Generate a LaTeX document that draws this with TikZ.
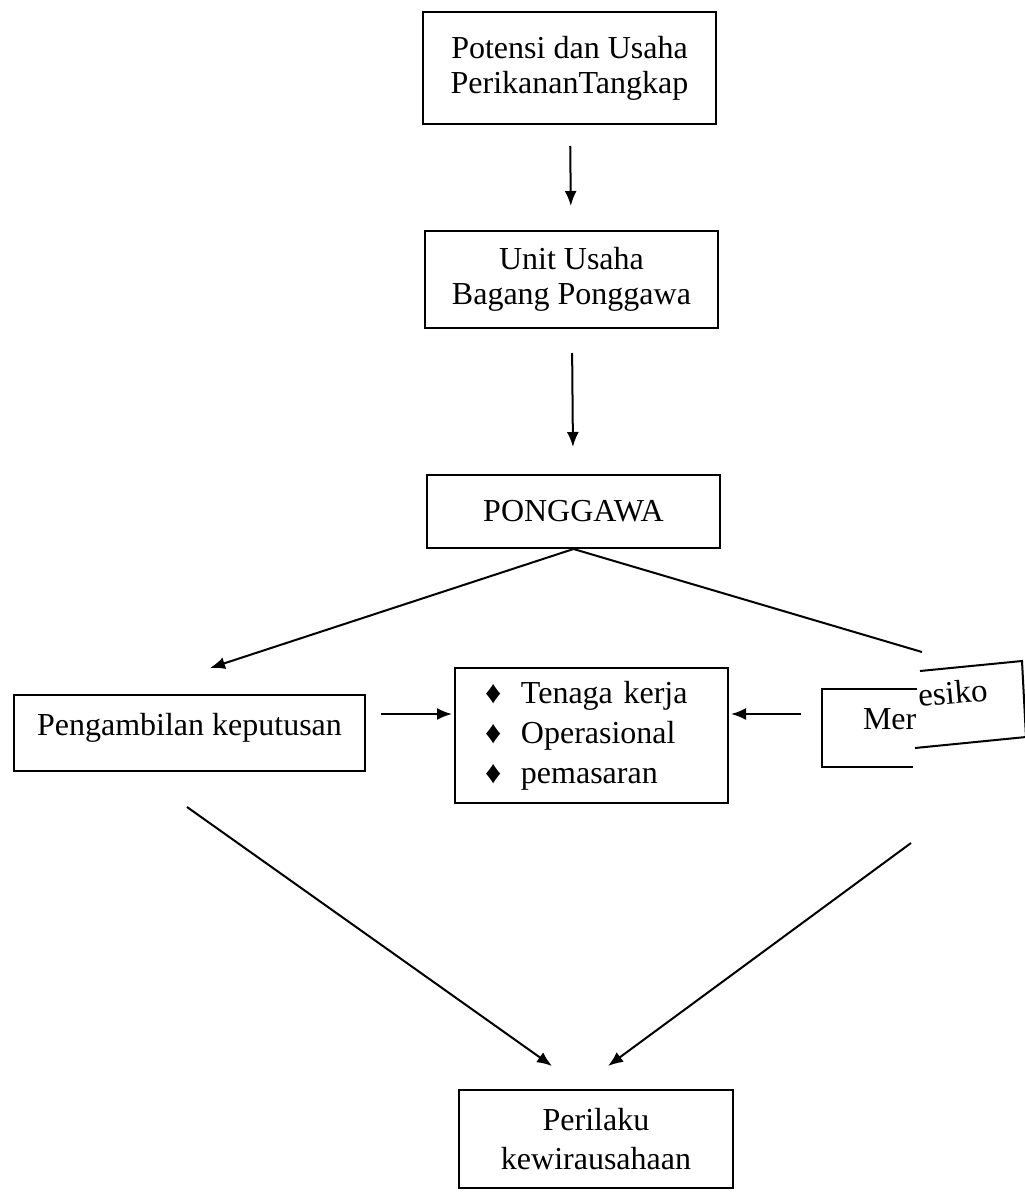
\documentclass[tikz,border=0pt]{standalone}
\usepackage{fontspec}
\setmainfont{Liberation Serif}
\usetikzlibrary{arrows.meta}
\begin{document}
\begin{tikzpicture}[x=0.5pt, y=-0.5pt, >={Latex[length=7.5pt,width=6pt]}, line width=1pt,
    kotak/.style={draw, inner sep=0pt, align=center, font=\fontsize{16}{17.5}\selectfont},
    panah/.style={->}]
\useasboundingbox (0,0) rectangle (1024,1199);
\node[kotak, minimum width=146.5pt, minimum height=56pt] (potensi) at (569.5,68) {Potensi dan Usaha\\PerikananTangkap};
\node[kotak, minimum width=146.5pt, minimum height=48.5pt] (unit) at (571.5,279.5) {Unit Usaha\\Bagang Ponggawa};
\node[kotak, minimum width=146.5pt, minimum height=36.5pt] (ponggawa) at (573.5,511.5) {PONGGAWA};
\node[kotak, minimum width=175.5pt, minimum height=38pt, text height=11pt, text depth=9pt] (keputusan) at (189.5,733) {Pengambilan keputusan};
\node[kotak, align=left, text width=106.5pt, inner xsep=15pt, minimum height=67.5pt,
      font=\fontsize{16}{20}\selectfont] (aspek) at (591.5,735.5)
      {\makebox[18pt][l]{♦}Tenaga kerja\\\makebox[18pt][l]{♦}Operasional\\\makebox[18pt][l]{♦}pemasaran};
\node[kotak, minimum width=137pt, minimum height=49pt, font=\fontsize{16}{19.5}\selectfont] (perilaku) at (596,1139) {Perilaku\\kewirausahaan};
% kotak resiko (potongan)
\draw (917,689) -- (822,689) -- (822,767) -- (913,767);
\node[anchor=base west, inner sep=0pt, font=\fontsize{16}{19}\selectfont] (mer) at (862,729) {Mer};
\draw (920,671) -- (1022,661) -- (1026,737) -- (915,748);
\node[anchor=base west, inner sep=0pt, rotate=5, font=\fontsize{16.5}{19}\selectfont] (esiko) at (918,707) {esiko};
\coordinate (ujungkiri) at (210,668);
\coordinate (ujungkanan) at (922,652);
\coordinate (kiribawah) at (552,1066);
\coordinate (kananbawah) at (608,1066);
\coordinate (kananatas) at (911,843);
\draw[panah, shorten <=10.5pt, shorten >=12pt] (potensi) -- (unit);
\draw[panah, shorten <=12pt, shorten >=13.5pt] (unit) -- (ponggawa);
\draw[panah] (ponggawa.south) -- (ujungkiri);
\draw (ponggawa.south) -- (ujungkanan);
\draw[panah] ([shift={(15,-19)}]keputusan.east) -- ([shift={(-2,-21.5)}]aspek.west);
\draw[panah] ([shift={(72,-21.5)}]aspek.east) -- ([shift={(2,-21.5)}]aspek.east);
\draw[panah] ([shift={(-2.5,35)}]keputusan.south) -- (kiribawah);
\draw[panah] (kananatas) -- (kananbawah);
\end{tikzpicture}
\end{document}
